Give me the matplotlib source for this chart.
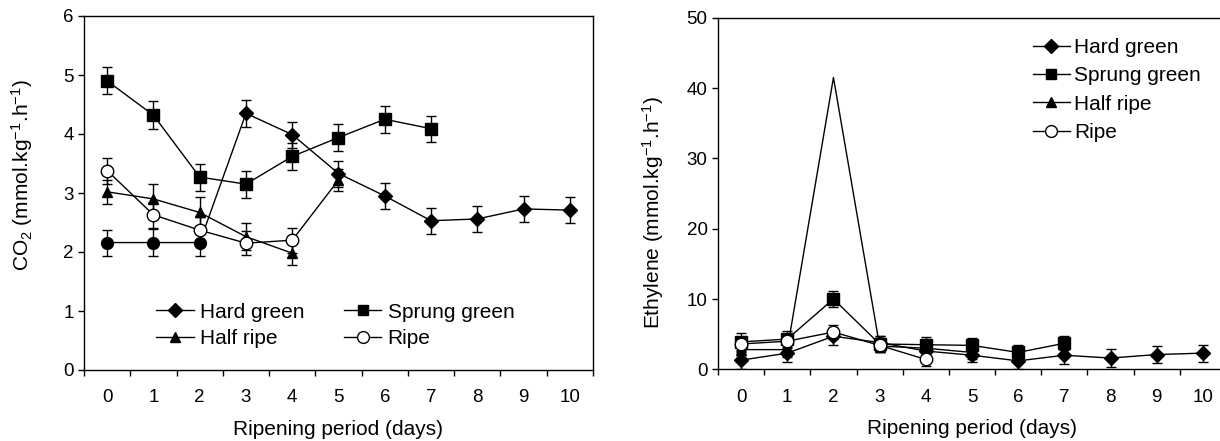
import matplotlib
matplotlib.use('Agg')
import matplotlib.pyplot as plt
from matplotlib.lines import Line2D

plt.rcParams['font.family'] = ['Liberation Sans', 'DejaVu Sans']
plt.rcParams['mathtext.fontset'] = 'custom'
plt.rcParams['mathtext.rm'] = 'Liberation Sans'
plt.rcParams['mathtext.it'] = 'Liberation Sans:italic'
plt.rcParams['mathtext.bf'] = 'Liberation Sans:bold'

# ---------------- data ----------------
days = [0, 1, 2, 3, 4, 5, 6, 7, 8, 9, 10]
tick_labels = ['0', '1', '2', '3', '4', '5', '6', '7', '8', '9', '10']
series_names = ['Hard green', 'Sprung green', 'Half ripe', 'Ripe']

# CO2 (left panel)
co2_hard_green = [2.16, 2.16, 2.16, 4.35, 3.99, 3.33, 2.95, 2.53, 2.56, 2.73, 2.71]
co2_hard_green_err = [0.22, 0.23, 0.23, 0.23, 0.22, 0.22, 0.22, 0.22, 0.22, 0.22, 0.22]
co2_sprung_green = [4.90, 4.32, 3.27, 3.15, 3.62, 3.94, 4.25, 4.09]
co2_sprung_green_err = [0.23, 0.24, 0.23, 0.23, 0.23, 0.23, 0.23, 0.22]
co2_half_ripe = [3.02, 2.90, 2.67, 2.26, 1.98]
co2_half_ripe_err = [0.20, 0.26, 0.26, 0.23, 0.20]
co2_ripe = [3.38, 2.63, 2.37, 2.15, 2.20, 3.22]
co2_ripe_err = [0.22, 0.22, 0.22, 0.20, 0.21, 0.18]

# Ethylene (right panel)
eth_hard_green = [1.3, 2.3, 4.7, 3.8, 2.6, 2.0, 1.2, 2.0, 1.6, 2.1, 2.3]
eth_hard_green_err = [1.2, 1.3, 1.2, 1.0, 1.0, 1.0, 1.2, 1.3, 1.3, 1.2, 1.2]
eth_sprung_green = [3.9, 4.3, 10.0, 3.6, 3.5, 3.4, 2.4, 3.7]
eth_sprung_green_err = [1.2, 1.1, 1.2, 1.1, 1.1, 1.0, 1.1, 1.0]
eth_half_ripe = [2.8, 2.8, 41.5, 3.3, 3.0, 2.4]
eth_half_ripe_err = [1.0, 1.0, 0.0, 0.9, 0.9, 0.9]
eth_ripe = [3.6, 4.0, 5.3, 3.4, 1.4]
eth_ripe_err = [1.0, 1.0, 1.0, 1.0, 1.0]

LW = 1.0
CAP = 3.6


def series(ax, y, err, markers, mfc='black', ms=None, skip_marker=()):
    x = days[:len(y)]
    ex = [xi for xi, e in zip(x, err) if e > 0]
    ey = [yi for yi, e in zip(y, err) if e > 0]
    ee = [e for e in err if e > 0]
    ax.errorbar(ex, ey, yerr=ee, fmt='none', ecolor='black', elinewidth=LW,
                capsize=CAP, capthick=LW, zorder=2)
    ax.plot(x, y, color='black', lw=LW, zorder=3)
    for i, (xi, yi) in enumerate(zip(x, y)):
        if i in skip_marker:
            continue
        m = markers[i]
        size = ms[i] if ms else 7.5
        face = mfc[i] if isinstance(mfc, list) else mfc
        ax.plot([xi], [yi], marker=m, ms=size, mfc=face, mec='black',
                mew=1.0, ls='none', zorder=4)


def style_axes(ax, ymax, ystep):
    ax.set_xlim(-0.5, 10.5)
    ax.set_ylim(0, ymax)
    ax.set_yticks(range(0, ymax + 1, ystep))
    ax.set_xticks(days)
    ax.set_xticklabels(tick_labels)
    ax.set_xticks([d - 0.5 for d in days] + [10.5], minor=True)
    ax.tick_params(axis='x', which='major', length=0, pad=14, labelsize=13.5)
    ax.tick_params(axis='x', which='minor', length=4.5, width=1.0, direction='out')
    ax.tick_params(axis='y', length=4.5, width=1.0, direction='out', pad=3,
                   labelsize=13.5)
    for s in ax.spines.values():
        s.set_linewidth(1.0)
    ax.set_xlabel('Ripening period (days)', fontsize=15)


fig = plt.figure(figsize=(12.2, 4.41), dpi=100)

# ---------------- left panel ----------------
ax1 = fig.add_axes([84 / 1220, 71 / 441, 509 / 1220, 354 / 441])
style_axes(ax1, 6, 1)
series(ax1, co2_sprung_green, co2_sprung_green_err, ['s'] * 8, ms=[8] * 8)
series(ax1, co2_half_ripe, co2_half_ripe_err, ['^'] * 5, ms=[7] * 5)
series(ax1, co2_ripe, co2_ripe_err, ['o', 'o', 'o', 'o', 'o', '^'],
       mfc=['white', 'white', 'white', 'white', 'white', 'black'],
       ms=[9, 9, 9, 9, 9, 7])
series(ax1, co2_hard_green, co2_hard_green_err,
       ['o', 'o', 'o', 'D', 'D', 'D', 'D', 'D', 'D', 'D', 'D'],
       ms=[8.5, 8.5, 8.5, 7.5, 7.5, 7.5, 7.5, 7.5, 7.5, 7.5, 7.5])
ax1.set_ylabel('CO$_{2}$ (mmol.kg$^{-1}$.h$^{-1}$)', fontsize=15)
ax1.yaxis.set_label_coords(-0.096, 0.55)
ax1.xaxis.set_label_coords(0.5, -0.14)

h_hard = Line2D([], [], color='black', lw=LW, marker='D', ms=7.5)
h_sprung = Line2D([], [], color='black', lw=LW, marker='s', ms=7.5)
h_half = Line2D([], [], color='black', lw=LW, marker='^', ms=7)
h_ripe = Line2D([], [], color='black', lw=LW, marker='o', ms=8.5, mfc='white')

ax1.legend([h_hard, h_half, h_sprung, h_ripe],
           [series_names[0], series_names[2], series_names[1], series_names[3]],
           ncol=2, frameon=False, fontsize=15, loc='center left',
           bbox_to_anchor=(0.1415, 0.1266), borderpad=0, borderaxespad=0,
           handlelength=1.8, handletextpad=0.3, columnspacing=1.9,
           labelspacing=0.35)

# ---------------- right panel ----------------
ax2 = fig.add_axes([718 / 1220, 71.7 / 441, 508 / 1220, 351.5 / 441])
style_axes(ax2, 50, 10)
series(ax2, eth_hard_green, eth_hard_green_err, ['D'] * 11, ms=[7.5] * 11)
series(ax2, eth_sprung_green, eth_sprung_green_err, ['s'] * 8, ms=[8] * 8)
series(ax2, eth_half_ripe, eth_half_ripe_err, ['^'] * 6, ms=[7] * 6,
       skip_marker=(2,))
series(ax2, eth_ripe, eth_ripe_err, ['o'] * 5, mfc='white', ms=[9] * 5)
ax2.set_ylabel('Ethylene (mmol.kg$^{-1}$.h$^{-1}$)', fontsize=15)
ax2.yaxis.set_label_coords(-0.102, 0.446)
ax2.xaxis.set_label_coords(0.5, -0.14)

ax2.legend([h_hard, h_sprung, h_half, h_ripe], series_names,
           frameon=False, fontsize=15, loc='center left',
           bbox_to_anchor=(0.6195, 0.7946), borderpad=0, borderaxespad=0,
           handlelength=1.8, handletextpad=0.2, labelspacing=0.45)

fig.savefig('out.png', dpi=100)
